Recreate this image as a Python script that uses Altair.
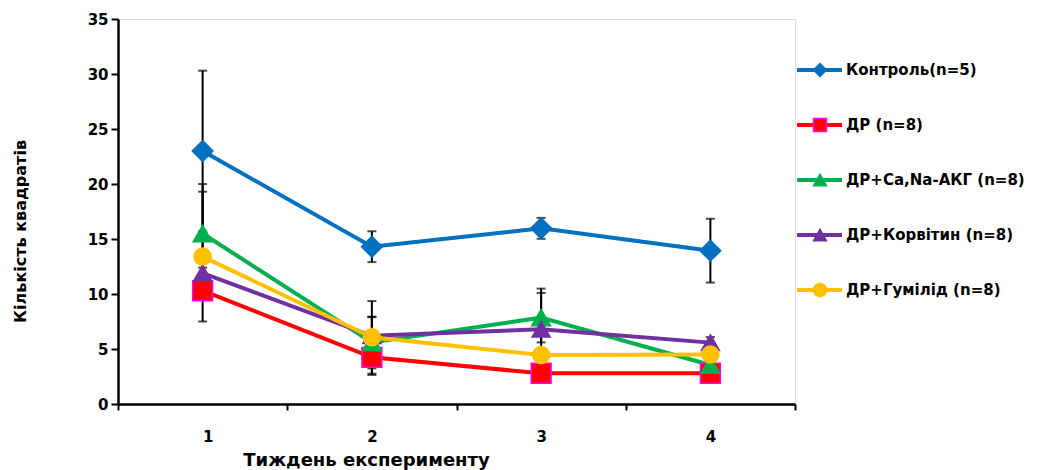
import altair as alt
import pandas as pd

weeks = [1, 2, 3, 4]
series = ["Контроль(n=5)", "ДР (n=8)", "ДР+Ca,Na-АКГ (n=8)", "ДР+Корвітин (n=8)", "ДР+Гумілід (n=8)"]
colors = ["#0070C0", "#FF0000", "#00B050", "#7030A0", "#FFC000"]
edges = ["#0070C0", "#FF00FF", "#00B050", "#7030A0", "#FFC000"]
shapes = ["diamond", "square", "triangle-up", "triangle-up", "circle"]
sizes = [430, 290, 300, 300, 260]

mean_control = [23.0, 14.3, 15.97, 13.94]
mean_dr = [10.3, 4.24, 2.79, 2.79]
mean_ca = [15.5, 5.59, 7.85, 3.55]
mean_korv = [11.9, 6.2, 6.79, 5.58]
mean_gum = [13.4, 6.06, 4.45, 4.5]

err_control = [7.3, 1.4, 0.95, 2.9]
err_dr = [0.6, 1.6, 0.7, 0.75]
err_ca = [4.5, 2.35, 2.25, 0.4]
err_korv = [0.5, 1.7, 3.7, 0.5]
err_gum = [5.9, 3.3, 0.4, 0.4]

y_ticks = [0, 5, 10, 15, 20, 25, 30, 35]
x_tick_values = [0.5, 1.5, 2.5, 3.5, 4.5]

means = [mean_control, mean_dr, mean_ca, mean_korv, mean_gum]
errs = [err_control, err_dr, err_ca, err_korv, err_gum]

rows = []
for s, m, e in zip(series, means, errs):
    for w, mv, ev in zip(weeks, m, e):
        rows.append({"series": s, "week": w, "value": mv, "low": mv - ev, "high": mv + ev})
df = pd.DataFrame(rows)
leg = pd.DataFrame({"series": series})

FONT = "DejaVu Sans"

col = alt.Color("series:N", scale=alt.Scale(domain=series, range=colors), legend=None)
fill = alt.Fill("series:N", scale=alt.Scale(domain=series, range=colors), legend=None)
stroke = alt.Stroke("series:N", scale=alt.Scale(domain=series, range=edges), legend=None)
shape = alt.Shape("series:N", scale=alt.Scale(domain=series, range=shapes), legend=None)

xenc = alt.X("week:Q", scale=alt.Scale(domain=[0.5, 4.5], nice=False, zero=False),
             axis=alt.Axis(values=x_tick_values, title="Тиждень експерименту",
                           labelExpr="datum.value < 4 ? '' + (datum.value + 0.5) : ''",
                           labelOffset=84.6, labelPadding=19, tickSize=6, tickWidth=2,
                           domainWidth=2.5, domainColor="black", tickColor="black",
                           labelFont=FONT, labelFontSize=15, labelFontWeight="bold", labelColor="black",
                           titleFont=FONT, titleFontSize=18, titleFontWeight="bold", titleColor="black",
                           titleX=248, titleY=47, titleAlign="center", titleBaseline="top",
                           grid=False))
yscale = alt.Scale(domain=[0, 35], nice=False)
yaxis = alt.Axis(values=y_ticks, title="Кількість квадратів", tickSize=7, tickWidth=2,
                 domainWidth=2.5, domainColor="black", tickColor="black", labelPadding=3,
                 labelFont=FONT, labelFontSize=15, labelFontWeight="bold", labelColor="black",
                 titleFont=FONT, titleFontSize=16, titleFontWeight="bold", titleColor="black",
                 titleX=-98, titleY=212, titleAngle=-90, titleAlign="center", titleBaseline="middle",
                 grid=False)

base = alt.Chart(df)
err_rule = base.mark_rule(color="black", strokeWidth=2).encode(
    x=xenc, y=alt.Y("low:Q", scale=yscale, axis=yaxis), y2="high:Q")
cap_lo = base.mark_tick(color="black", thickness=2, size=9, orient="horizontal").encode(
    x="week:Q", y="low:Q")
cap_hi = base.mark_tick(color="black", thickness=2, size=9, orient="horizontal").encode(
    x="week:Q", y="high:Q")
lines = base.mark_line(strokeWidth=4).encode(
    x="week:Q", y="value:Q", color=col, order=alt.Order("week:Q"))
points = base.mark_point(filled=True, opacity=1, strokeWidth=1.5).encode(
    x="week:Q", y="value:Q", fill=fill, stroke=stroke, shape=shape,
    size=alt.Size("series:N", scale=alt.Scale(domain=series, range=sizes), legend=None))

main = alt.layer(err_rule, cap_lo, cap_hi, lines, points)

ly = alt.Y("series:N", scale=alt.Scale(domain=series, type="point", range=[51, 271], padding=0), axis=None)
lbase = alt.Chart(leg)
leg_line = lbase.mark_rule(strokeWidth=4).encode(
    x=alt.value(679), x2=alt.value(724), y=ly, color=col)
leg_pt = lbase.mark_point(filled=True, opacity=1, strokeWidth=1.5, size=170).encode(
    x=alt.value(702), y=ly, fill=fill, stroke=stroke, shape=shape)
leg_txt = lbase.mark_text(align="left", baseline="middle", font=FONT, fontSize=15,
                          fontWeight="bold", color="black").encode(
    x=alt.value(728), y=ly, text="series:N")
legend = alt.layer(leg_line, leg_pt, leg_txt)

chart = alt.layer(main, legend).resolve_scale(y="independent").properties(
    width=677, height=385,
    autosize=alt.AutoSizeParams(type="none"),
    padding={"left": 110, "top": 11, "right": 236, "bottom": 70},
).configure_view(stroke=None).configure(background="white")

chart.save("out.html", embed_options={"renderer": "svg", "actions": False})
